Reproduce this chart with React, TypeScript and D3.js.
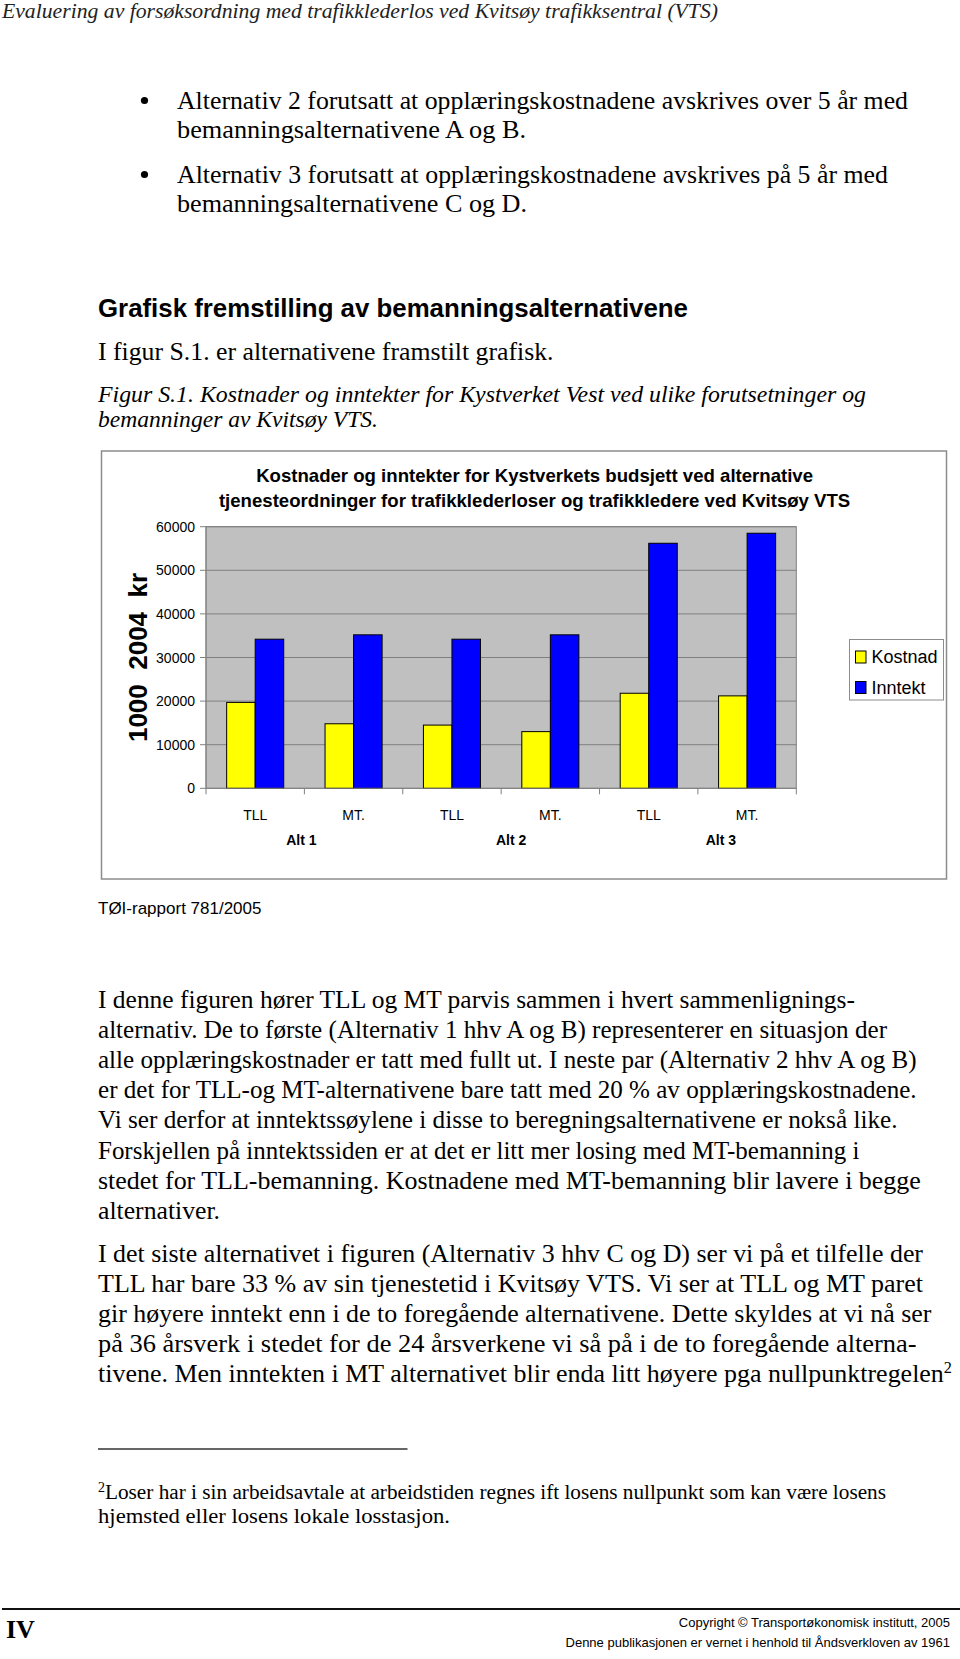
import React from "react";
import * as d3 from "d3";

// ---------- chart data ----------
const categories = ["TLL", "MT.", "TLL", "MT.", "TLL", "MT."];
const groupLabels = ["Alt 1", "Alt 2", "Alt 3"];
const kostnad = [19700, 14800, 14500, 13000, 21800, 21200];
const inntekt = [34200, 35200, 34200, 35200, 56200, 58500];
const yTicks = [0, 10000, 20000, 30000, 40000, 50000, 60000];
const seriesNames = ["Kostnad", "Inntekt"];
const chartTitle = [
  "Kostnader og inntekter for Kystverkets budsjett ved alternative",
  "tjenesteordninger for trafikklederloser og trafikkledere ved Kvitsøy VTS",
];
const yTitle = "1000  2004  kr";

// ---------- page text ----------
const header = "Evaluering av forsøksordning med trafikklederlos ved Kvitsøy trafikksentral (VTS)";
const bullets = [
  ["Alternativ 2 forutsatt at opplæringskostnadene avskrives over 5 år med", "bemanningsalternativene A og B."],
  ["Alternativ 3 forutsatt at opplæringskostnadene avskrives på 5 år med", "bemanningsalternativene C og D."],
];
const heading = "Grafisk fremstilling av bemanningsalternativene";
const intro = "I figur S.1. er alternativene framstilt grafisk.";
const caption = [
  "Figur S.1. Kostnader og inntekter for Kystverket Vest ved ulike forutsetninger og",
  "bemanninger av Kvitsøy VTS.",
];
const source = "TØI-rapport 781/2005";
const para1 = [
  "I denne figuren hører TLL og MT parvis sammen i hvert sammenlignings-",
  "alternativ. De to første (Alternativ 1 hhv A og B) representerer en situasjon der",
  "alle opplæringskostnader er tatt med fullt ut. I neste par (Alternativ 2 hhv A og B)",
  "er det for TLL-og MT-alternativene bare tatt med 20 % av opplæringskostnadene.",
  "Vi ser derfor at inntektssøylene i disse to beregningsalternativene er nokså like.",
  "Forskjellen på inntektssiden er at det er litt mer losing med MT-bemanning i",
  "stedet for TLL-bemanning. Kostnadene med MT-bemanning blir lavere i begge",
  "alternativer.",
];
const para2 = [
  "I det siste alternativet i figuren (Alternativ 3 hhv C og D) ser vi på et tilfelle der",
  "TLL har bare 33 % av sin tjenestetid i Kvitsøy VTS. Vi ser at TLL og MT paret",
  "gir høyere inntekt enn i de to foregående alternativene. Dette skyldes at vi nå ser",
  "på 36 årsverk i stedet for de 24 årsverkene vi så på i de to foregående alterna-",
  "tivene. Men inntekten i MT alternativet blir enda litt høyere pga nullpunktregelen",
];
const footnote = [
  "Loser har i sin arbeidsavtale at arbeidstiden regnes ift losens nullpunkt som kan være losens",
  "hjemsted eller losens lokale losstasjon.",
];
const copyright = [
  "Copyright © Transportøkonomisk institutt, 2005",
  "Denne publikasjonen er vernet i henhold til Åndsverkloven av 1961",
];

// ---------- layout (line end positions, px) ----------
const LEFT = 98;
const bulletEnds = [
  [908, 526],
  [888, 527],
];
const para1Ends = [855, 887, 916.6, 916.6, 897.5, 859.4, 920.8, 220];
const para2Ends = [923, 923, 931.4, 916.6, 952];
const footnoteEnds = [886, 450];

const SERIF = "'Liberation Serif', 'Times New Roman', serif";
const SANS = "'Liberation Sans', Arial, sans-serif";

export default function App() {
  const W = 960;
  const H = 1659;

  // chart geometry
  const plot = { left: 206, right: 796.3, top: 526.7, bottom: 788.3 };
  const x = d3
    .scaleBand<number>()
    .domain(categories.map((_, i) => i))
    .range([plot.left, plot.right])
    .paddingInner(0)
    .paddingOuter(0);
  const y = d3.scaleLinear().domain([0, 60000]).range([plot.bottom, plot.top]);
  const bw = x.bandwidth() * 0.29;
  const colors = ["#FFFF00", "#0000FF"];

  const bodySize = 25.5;
  const bodyStep = 30.1;

  return (
    <svg
      width={W}
      height={H}
      style={{ position: "absolute", left: 0, top: 0, background: "#fff" }}
      xmlns="http://www.w3.org/2000/svg"
    >
      <rect x={0} y={0} width={W} height={H} fill="#fff" />
      {/* header */}
      <text
        x={2}
        y={17.5}
        fontFamily={SERIF}
        fontStyle="italic"
        fontSize={21.5}
        fill="#222"
        textLength={716}
        lengthAdjust="spacingAndGlyphs"
      >
        {header}
      </text>

      {/* bullets */}
      {bullets.map((b, bi) => (
        <g key={bi}>
          <circle cx={144.5} cy={100 + bi * 74 + 0.5} r={3.6} fill="#000" />
          {b.map((line, li) => (
            <text
              key={li}
              x={177}
              y={108.5 + bi * 74 + li * 29.8}
              fontFamily={SERIF}
              fontSize={bodySize}
              fill="#000"
              textLength={bulletEnds[bi][li] - 177}
              lengthAdjust="spacingAndGlyphs"
            >
              {line}
            </text>
          ))}
        </g>
      ))}

      {/* heading */}
      <text
        x={LEFT}
        y={317}
        fontFamily={SANS}
        fontWeight="bold"
        fontSize={25.5}
        fill="#000"
        textLength={590}
        lengthAdjust="spacingAndGlyphs"
      >
        {heading}
      </text>
      <text
        x={LEFT}
        y={360}
        fontFamily={SERIF}
        fontSize={bodySize}
        fill="#000"
        textLength={455.5}
        lengthAdjust="spacingAndGlyphs"
      >
        {intro}
      </text>
      {caption.map((line, i) => (
        <text
          key={i}
          x={LEFT}
          y={401.5 + i * 25.5}
          fontFamily={SERIF}
          fontStyle="italic"
          fontSize={24}
          fill="#000"
          textLength={i === 0 ? 768 : 280}
          lengthAdjust="spacingAndGlyphs"
        >
          {line}
        </text>
      ))}

      {/* chart frame */}
      <rect x={101.5} y={451} width={845} height={428} fill="#fff" stroke="#8c8c8c" strokeWidth={1.5} />
      {chartTitle.map((line, i) => (
        <text
          key={i}
          x={534.6}
          y={481.5 + i * 25}
          textAnchor="middle"
          fontFamily={SANS}
          fontWeight="bold"
          fontSize={18.6}
          fill="#000"
        >
          {line}
        </text>
      ))}

      {/* plot area */}
      <rect
        x={plot.left}
        y={plot.top}
        width={plot.right - plot.left}
        height={plot.bottom - plot.top}
        fill="#C0C0C0"
        stroke="#808080"
        strokeWidth={1}
      />
      {yTicks.map((t) => (
        <g key={t}>
          {t > 0 && (
            <line x1={plot.left} x2={plot.right} y1={y(t)} y2={y(t)} stroke="#808080" strokeWidth={1} />
          )}
          <line x1={plot.left - 6} x2={plot.left} y1={y(t)} y2={y(t)} stroke="#808080" strokeWidth={1} />
          <text
            x={195}
            y={y(t)}
            dy="0.36em"
            textAnchor="end"
            fontFamily={SANS}
            fontSize={14}
            fill="#000"
          >
            {t}
          </text>
        </g>
      ))}
      {/* bars */}
      {categories.map((c, i) => {
        const cx = (x(i) as number) + x.bandwidth() / 2;
        return (
          <g key={i}>
            <rect
              x={cx - bw}
              y={y(kostnad[i])}
              width={bw}
              height={y(0) - y(kostnad[i])}
              fill={colors[0]}
              stroke="#000"
              strokeWidth={1}
            />
            <rect
              x={cx}
              y={y(inntekt[i])}
              width={bw}
              height={y(0) - y(inntekt[i])}
              fill={colors[1]}
              stroke="#000"
              strokeWidth={1}
            />
            <text x={cx} y={819.5} textAnchor="middle" fontFamily={SANS} fontSize={14} fill="#000">
              {c}
            </text>
          </g>
        );
      })}
      {/* axes */}
      <line x1={plot.left} x2={plot.left} y1={plot.top} y2={plot.bottom} stroke="#808080" strokeWidth={1} />
      <line x1={plot.left} x2={plot.right} y1={plot.bottom} y2={plot.bottom} stroke="#808080" strokeWidth={1} />
      {categories.map((_, i) => (
        <line
          key={i}
          x1={x(i) as number}
          x2={x(i) as number}
          y1={plot.bottom}
          y2={plot.bottom + 6}
          stroke="#808080"
          strokeWidth={1}
        />
      ))}
      <line
        x1={plot.right}
        x2={plot.right}
        y1={plot.bottom}
        y2={plot.bottom + 6}
        stroke="#808080"
        strokeWidth={1}
      />
      {groupLabels.map((g, gi) => (
        <text
          key={g}
          x={(x(gi * 2 + 1) as number) - 3 + 13 * gi}
          y={845}
          textAnchor="middle"
          fontFamily={SANS}
          fontWeight="bold"
          fontSize={14}
          fill="#000"
        >
          {g}
        </text>
      ))}
      {/* y title */}
      <text
        transform={`translate(146.5, ${(plot.top + plot.bottom) / 2}) rotate(-90)`}
        textAnchor="middle"
        fontFamily={SANS}
        fontWeight="bold"
        fontSize={26}
        fill="#000"
        style={{ whiteSpace: "pre" }}
      >
        {yTitle}
      </text>
      {/* legend */}
      <rect x={849.5} y={639.5} width={94} height={60.5} fill="#fff" stroke="#8c8c8c" strokeWidth={1} />
      {seriesNames.map((s, i) => (
        <g key={s}>
          <rect x={855.5} y={651 + i * 30.5} width={10.5} height={12} fill={colors[i]} stroke="#000" strokeWidth={1} />
          <text x={871.5} y={663 + i * 30.5} fontFamily={SANS} fontSize={18} fill="#000">
            {s}
          </text>
        </g>
      ))}

      {/* source */}
      <text x={LEFT} y={913.5} fontFamily={SANS} fontSize={17} fill="#000">
        {source}
      </text>

      {/* paragraphs */}
      {para1.map((line, i) => (
        <text
          key={i}
          x={LEFT}
          y={1008 + i * bodyStep}
          fontFamily={SERIF}
          fontSize={bodySize}
          fill="#000"
          textLength={para1Ends[i] - LEFT}
          lengthAdjust="spacingAndGlyphs"
        >
          {line}
        </text>
      ))}
      {para2.map((line, i) => (
        <text
          key={i}
          x={LEFT}
          y={1261.5 + i * bodyStep}
          fontFamily={SERIF}
          fontSize={bodySize}
          fill="#000"
          textLength={para2Ends[i] - LEFT}
          lengthAdjust="spacingAndGlyphs"
        >
          {line}
          {i === para2.length - 1 && (
            <tspan fontSize={16} dy={-9}>
              2
            </tspan>
          )}
        </text>
      ))}

      {/* footnote */}
      <line x1={LEFT} x2={407.5} y1={1449} y2={1449} stroke="#333" strokeWidth={1.6} />
      {footnote.map((line, i) => (
        <text
          key={i}
          x={LEFT}
          y={1499 + i * 23.5}
          fontFamily={SERIF}
          fontSize={21.3}
          fill="#000"
          textLength={footnoteEnds[i] - LEFT}
          lengthAdjust="spacingAndGlyphs"
        >
          {i === 0 && (
            <tspan fontSize={14} dy={-7}>
              2
            </tspan>
          )}
          {i === 0 ? <tspan dy={7}>{line}</tspan> : line}
        </text>
      ))}

      {/* footer */}
      <line x1={2} x2={960} y1={1609} y2={1609} stroke="#111" strokeWidth={1.8} />
      <text x={6} y={1637.5} fontFamily={SERIF} fontWeight="bold" fontSize={26} fill="#000">
        IV
      </text>
      {copyright.map((line, i) => (
        <text key={i} x={950} y={1627 + i * 19.5} textAnchor="end" fontFamily={SANS} fontSize={13} fill="#000">
          {line}
        </text>
      ))}
    </svg>
  );
}
